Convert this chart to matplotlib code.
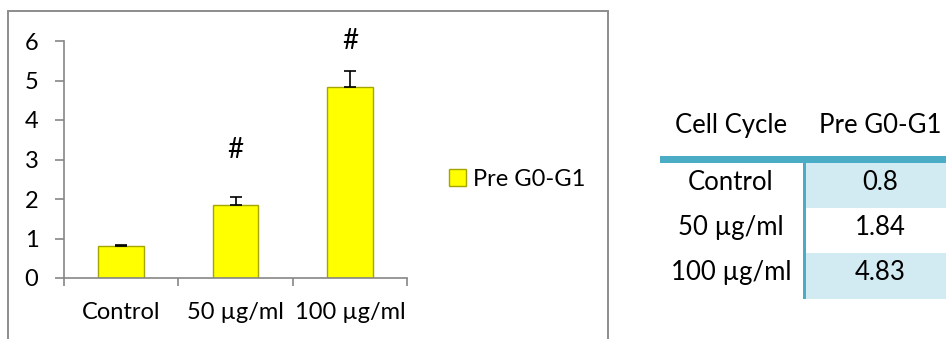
import matplotlib
matplotlib.use("Agg")
import matplotlib.pyplot as plt
from matplotlib.patches import Rectangle

# Data
categories = ["Control", "50 µg/ml", "100 µg/ml"]
pre_g0_g1 = [0.8, 1.84, 4.83]
errors = [0.03, 0.2, 0.41]
series_name = "Pre G0-G1"
table_header = ["Cell Cycle", "Pre G0-G1"]
sig_marks = ["", "#", "#"]
sig_heights = [None, 3.25, 6.0]
y_ticks = [0, 1, 2, 3, 4, 5, 6]

W, H = 946, 339
fig = plt.figure(figsize=(W / 100, H / 100), dpi=100)


def fx(px):
    return px / W


def fy(py):
    return 1 - py / H


chart_font = "Lato"
table_font = "Lato"
chart_size = 17
table_size = 18.5
gray = "#868686"

# Chart frame
fig.patches.append(Rectangle((fx(8), fy(360)), fx(608) - fx(8), fy(11) - fy(360),
                             transform=fig.transFigure, fill=False,
                             edgecolor="#8C8C8C", linewidth=1.4))

ax = fig.add_axes([fx(64), fy(278), fx(407) - fx(64), fy(41) - fy(278)])
x = list(range(len(categories)))
bars = ax.bar(x, pre_g0_g1, width=0.4, color="#FFFF00", edgecolor="#A5A500",
              linewidth=1.0, label=series_name, zorder=2)
ax.errorbar(x, pre_g0_g1, yerr=[[0] * len(errors), errors], fmt="none",
            ecolor="black", elinewidth=1.2, capsize=4, capthick=1.2, zorder=3)

for xi, mark, h in zip(x, sig_marks, sig_heights):
    if mark:
        ax.text(xi, h, mark, ha="center", va="center", fontsize=20,
                family=chart_font, clip_on=False)

ax.set_xlim(-0.5, len(categories) - 0.5)
ax.set_ylim(0, 6)
ax.set_yticks(y_ticks)
ax.set_xticks([i - 0.5 for i in range(len(categories) + 1)], minor=False)
ax.set_xticklabels([])
ax.set_xticks(x, minor=True)
ax.set_xticklabels(categories, minor=True)
ax.tick_params(axis="x", which="major", direction="out", length=6, width=1.2, color=gray)
ax.tick_params(axis="x", which="minor", length=0, pad=17, labelsize=chart_size)
ax.tick_params(axis="y", direction="out", length=6.5, width=1.2, color=gray,
               pad=12, labelsize=chart_size)
for lab in ax.get_xticklabels(minor=True) + ax.get_yticklabels():
    lab.set_family(chart_font)
for side in ("top", "right"):
    ax.spines[side].set_visible(False)
for side in ("left", "bottom"):
    ax.spines[side].set_color(gray)
    ax.spines[side].set_linewidth(1.2)

leg = ax.legend(handles=[bars], loc="center left",
                bbox_to_anchor=(fx(449), fy(179)),
                bbox_transform=fig.transFigure, frameon=False,
                borderpad=0, borderaxespad=0,
                handlelength=0.7, handleheight=0.7, handletextpad=0.3,
                prop={"family": chart_font, "size": chart_size})

# Summary table
teal = "#4BACC6"
shade = "#D2EAF1"
row_tops = [163, 208, 253]
row_h = 45.5
label_cx, value_cx = 731, 880
for i, (cat, val) in enumerate(zip(categories, pre_g0_g1)):
    top = row_tops[i]
    if i % 2 == 0:
        fig.patches.append(Rectangle((fx(806), fy(top + row_h)), fx(960) - fx(806),
                                     fy(top) - fy(top + row_h),
                                     transform=fig.transFigure, facecolor=shade,
                                     edgecolor="none"))
    base = top + 27
    fig.text(fx(label_cx), fy(base), cat, ha="center", va="baseline",
             fontsize=table_size, family=table_font, color="black")
    fig.text(fx(value_cx), fy(base), f"{val:g}", ha="center", va="baseline",
             fontsize=table_size, family=table_font, color="black")

fig.text(fx(label_cx), fy(133), table_header[0], ha="center", va="baseline",
         fontsize=table_size, family=table_font)
fig.text(fx(value_cx), fy(133), table_header[1], ha="center", va="baseline",
         fontsize=table_size, family=table_font)

fig.patches.append(Rectangle((fx(660), fy(163)), fx(960) - fx(660), fy(156) - fy(163),
                             transform=fig.transFigure, facecolor=teal, edgecolor="none"))
fig.patches.append(Rectangle((fx(803), fy(299)), fx(806) - fx(803), fy(163) - fy(299),
                             transform=fig.transFigure, facecolor=teal, edgecolor="none"))

fig.savefig("out.png", dpi=100)
